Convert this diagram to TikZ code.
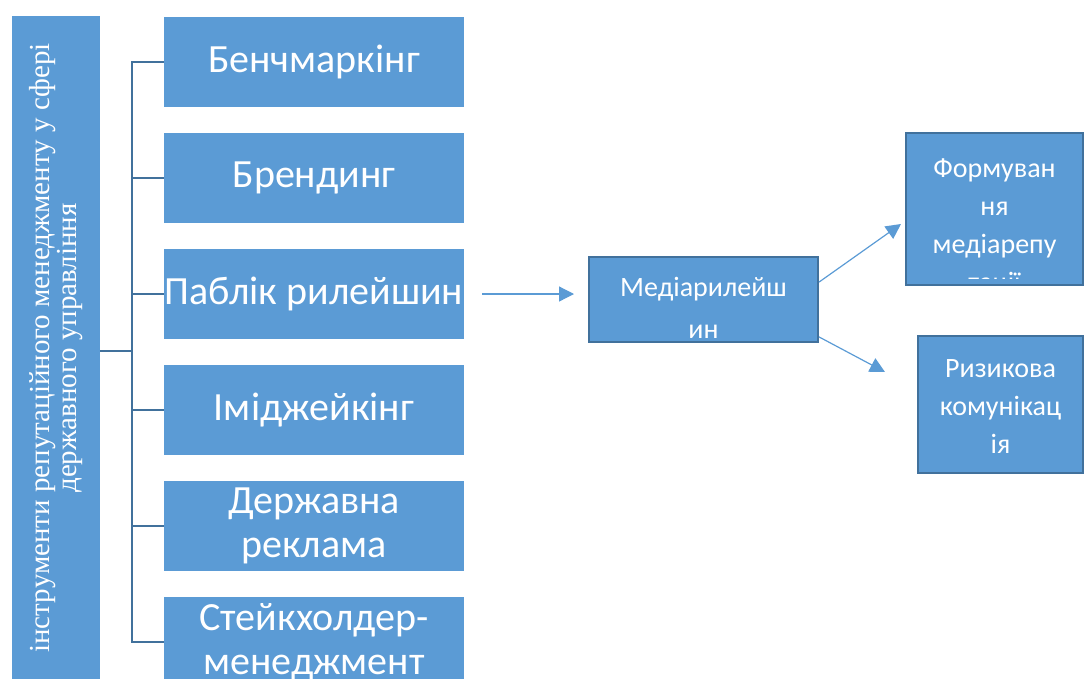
\documentclass[tikz,border=0pt]{standalone}
\usepackage{fontspec}
\setmainfont{Liberation Serif}
\newfontfamily\calib{Carlito}
\usetikzlibrary{arrows.meta,calc}
\definecolor{boxblue}{HTML}{5B9BD5}
\definecolor{edgeblue}{HTML}{41719C}
\begin{document}
\begin{tikzpicture}[x=1pt,y=-1pt,
  lbox/.style={fill=boxblue, text=white, minimum width=300pt, minimum height=90pt, inner sep=0pt, align=center, font=\calib\fontsize{40}{44}\selectfont},
  sbox/.style={fill=boxblue, draw=edgeblue, line width=2pt, inner sep=0pt},
  stxt/.style={text=white, align=center, inner sep=0pt, font=\calib\fontsize{28}{38}\selectfont},
  bracket/.style={draw=edgeblue, line width=2.5pt},
  arr/.style={draw=boxblue, line width=1.2pt, -{Triangle[length=15pt,width=15pt]}}
]
\useasboundingbox (0,0) rectangle (1086,678);
\clip (0,0) rectangle (1086,678);

% root box
\node[fill=boxblue, rotate=90, minimum width=665pt, minimum height=88pt, inner sep=0pt,
      text=white, align=center, font=\rmfamily\fontsize{29}{27}\selectfont]
      (root) at (56,348) {інструменти репутаційного менеджменту у сфері\\державного управління};

% instrument boxes
\node[lbox] (b1) at (314,62) {Бенчмаркінг};
\node[lbox] (b2) at (314,178) {Брендинг};
\node[lbox] (b3) at (314,294) {Паблік рилейшин};
\node[lbox] (b4) at (314,410) {Іміджейкінг};
\node[lbox] (b5) at (314,526) {Державна\\реклама};
\node[lbox] (b6) at (314,642) {Стейкхолдер-\\менеджмент};

% bracket
\coordinate (j) at (132,351);
\draw[bracket] (root.south |- j) -- (j);
\draw[bracket] (b1.west) -- (b1.west -| j) -- (b6.west -| j) -- (b6.west);
\foreach \b in {b2,b3,b4,b5} \draw[bracket] (\b.west -| j) -- (\b.west);

% media relations
\node[sbox, minimum width=229pt, minimum height=85pt] (m) at (703.5,299.5) {};
\begin{scope}
  \clip (591,259) rectangle (816,337);
  \node[stxt, anchor=base, font=\calib\fontsize{28}{42}\selectfont] at (703.5,338) {Медіарилейш\\ин};
\end{scope}

% forming media reputation
\node[sbox, minimum width=177pt, minimum height=152pt] (f) at (994.5,209) {};
\begin{scope}
  \clip (908,135) rectangle (1081,278);
  \node[stxt, anchor=base] at (994.5,291) {Формуван\\ня\\медіарепу\\тації};
\end{scope}

% risk communication
\node[sbox, minimum width=165pt, minimum height=137pt] (r) at (1000.5,404.5) {};
\node[stxt, anchor=base] at (1000.5,453) {Ризикова\\комунікац\\ія};

% arrows
\draw[arr, shorten <=18pt, shorten >=14pt] (b3.east) -- (b3.east -| m.west);
\draw[arr] ($(m.north east)!0.3!(m.south east)$) -- ($(f.west)+(-4,15)$);
\draw[arr] ($(m.north east)!0.93!(m.south east)$) -- ($(r.north west)+(-32,37)$);
\end{tikzpicture}
\end{document}
